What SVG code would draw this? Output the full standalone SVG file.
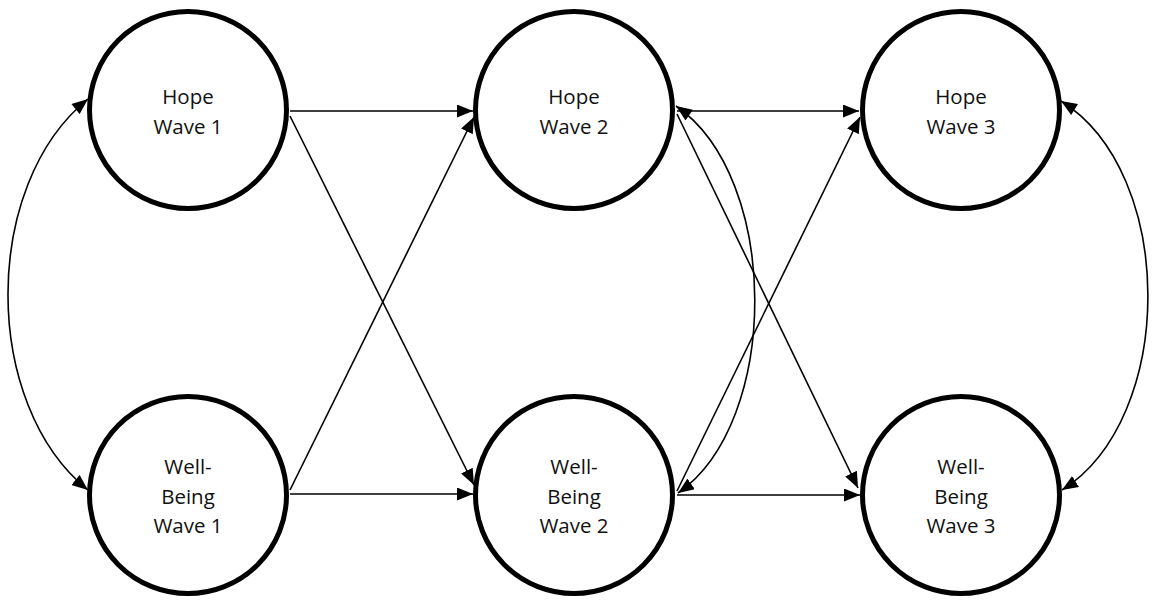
<svg xmlns="http://www.w3.org/2000/svg" width="1152" height="601" viewBox="0 0 1152 601">
  <style>
    .node circle { fill: #ffffff; stroke: #000000; stroke-width: 5; }
    .node text { font-family: "Open Sans", "Noto Sans", sans-serif; font-size: 20.5px; fill: #111111; text-anchor: middle; }
    .edges path { fill: none; stroke: #000000; stroke-width: 1.6; }
    .one { marker-end: url(#head); }
    .two { marker-start: url(#tail); marker-end: url(#head); }
  </style>
  <defs>
    <marker id="head" markerUnits="userSpaceOnUse" markerWidth="17" markerHeight="13" refX="16" refY="6.5" orient="auto">
      <path d="M0,0 L16,6.5 L0,13 Z" fill="#000000"/>
    </marker>
    <marker id="tail" markerUnits="userSpaceOnUse" markerWidth="17" markerHeight="13" refX="0" refY="6.5" orient="auto">
      <path d="M16,0 L0,6.5 L16,13 Z" fill="#000000"/>
    </marker>
  </defs>

  <rect width="1152" height="601" fill="#ffffff"/>

  <!-- connectors: stability and cross-lagged paths, plus covariances -->
  <g id="connectors" class="edges">
    <path class="one" d="M290,111 L473,111"/>
    <path class="one" d="M290,116 L474,485"/>
    <path class="one" d="M290,490 L474,117"/>
    <path class="one" d="M290,494 L473,494"/>
    <path class="one" d="M677,111 L859,111"/>
    <path class="one" d="M677,114 L858,488"/>
    <path class="one" d="M677,491 L860,117"/>
    <path class="one" d="M677,495 L860,495"/>
    <!-- covariances -->
    <path class="two" d="M88,99 C-18.7,185 -18.7,404 88,490"/>
    <path class="two" d="M676,106 C780.7,178 780.7,422 678,493"/>
    <path class="two" d="M1061,101 C1176.7,173 1176.7,418 1062,490"/>
  </g>

  <g id="hope1" class="node">
    <circle cx="188" cy="110" r="98.5"/>
    <text x="188" y="104">Hope</text>
    <text x="188" y="134">Wave 1</text>
  </g>
  <g id="hope2" class="node">
    <circle cx="574" cy="110" r="98.5"/>
    <text x="574" y="104">Hope</text>
    <text x="574" y="134">Wave 2</text>
  </g>
  <g id="hope3" class="node">
    <circle cx="961" cy="110" r="98.5"/>
    <text x="961" y="104">Hope</text>
    <text x="961" y="134">Wave 3</text>
  </g>
  <g id="wellbeing1" class="node">
    <circle cx="188" cy="495" r="98.5"/>
    <text x="188" y="474">Well-</text>
    <text x="188" y="504">Being</text>
    <text x="188" y="533">Wave 1</text>
  </g>
  <g id="wellbeing2" class="node">
    <circle cx="574" cy="495" r="98.5"/>
    <text x="574" y="474">Well-</text>
    <text x="574" y="504">Being</text>
    <text x="574" y="533">Wave 2</text>
  </g>
  <g id="wellbeing3" class="node">
    <circle cx="961" cy="495" r="98.5"/>
    <text x="961" y="474">Well-</text>
    <text x="961" y="504">Being</text>
    <text x="961" y="533">Wave 3</text>
  </g>
</svg>
